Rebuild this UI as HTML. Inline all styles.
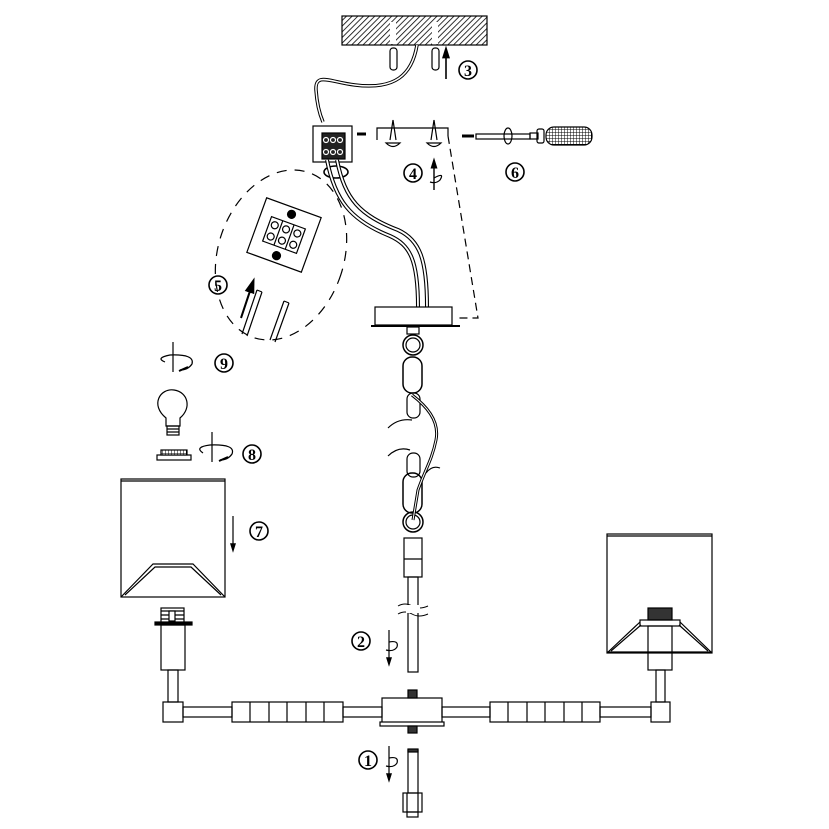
<!DOCTYPE html>
<html><head><meta charset="utf-8"><style>html,body{margin:0;padding:0;background:#fff;}svg{display:block}</style></head>
<body>
<svg width="829" height="829" viewBox="0 0 829 829" xmlns="http://www.w3.org/2000/svg" font-family="Liberation Serif, serif">
<defs>
<pattern id="hatch" width="4" height="4" patternUnits="userSpaceOnUse" patternTransform="rotate(45)"><rect width="4" height="4" fill="#fff"/><line x1="0" y1="0" x2="0" y2="4" stroke="#000" stroke-width="1.6"/></pattern>
<pattern id="grid" width="3" height="3" patternUnits="userSpaceOnUse"><rect width="3" height="3" fill="#fff"/><path d="M0 0H3M0 0V3" stroke="#000" stroke-width="1"/></pattern>
<marker id="ah" markerWidth="8" markerHeight="8" refX="4" refY="4" orient="auto"><path d="M0 1.5 L8 4 L0 6.5Z" fill="#000"/></marker>
</defs>
<g fill="none" stroke="#000" stroke-width="1.2">
<!-- ceiling -->
<rect x="342" y="16" width="145" height="29" fill="url(#hatch)"/>
<rect x="390" y="22" width="6" height="22" fill="#fff" stroke="none"/>
<rect x="432" y="22" width="6" height="22" fill="#fff" stroke="none"/>
<rect x="390" y="48" width="7" height="22" rx="3"/>
<rect x="432" y="48" width="7" height="22" rx="3"/>
<line x1="446" y1="79" x2="446" y2="52" stroke-width="1.6" marker-end="url(#ah)"/>
<!-- cable -->
<path d="M417 45 C412 75 395 90 355 85 C330 82 315 72 316 90 C317 105 320 115 323 122" stroke-width="3.5"/>
<path d="M417 45 C412 75 395 90 355 85 C330 82 315 72 316 90 C317 105 320 115 323 122" stroke="#fff" stroke-width="1.5"/>
<!-- junction box -->
<rect x="313" y="126" width="39" height="36"/>
<rect x="322" y="133" width="23" height="26" fill="#222"/>
<circle cx="326" cy="140" r="2.5" stroke="#fff"/><circle cx="333" cy="140" r="2.5" stroke="#fff"/><circle cx="340" cy="140" r="2.5" stroke="#fff"/>
<circle cx="326" cy="152" r="2.5" stroke="#fff"/><circle cx="333" cy="152" r="2.5" stroke="#fff"/><circle cx="340" cy="152" r="2.5" stroke="#fff"/>
<ellipse cx="336" cy="172" rx="12" ry="6" stroke-width="1.6"/>
<path d="M357 134 H366" stroke-width="3"/>
<!-- wires -->
<path d="M327 160 C335 200 350 220 390 236 C410 245 418 260 418 307" stroke-width="4"/>
<path d="M327 160 C335 200 350 220 390 236 C410 245 418 260 418 307" stroke="#fff" stroke-width="1.8"/>
<path d="M337 160 C345 200 360 215 398 230 C420 240 427 260 427 307" stroke-width="4"/>
<path d="M337 160 C345 200 360 215 398 230 C420 240 427 260 427 307" stroke="#fff" stroke-width="1.8"/>
<!-- bracket -->
<path d="M377 140 V128 H448 V136"/>
<path d="M393 120 L390 140 M393 120 L396 140 M386 143 Q393 150 400 143Z"/>
<path d="M434 120 L431 140 M434 120 L437 140 M427 143 Q434 150 441 143Z"/>
<line x1="434" y1="190" x2="434" y2="163" stroke-width="1.4" marker-end="url(#ah)"/>
<path d="M434 178 Q445 172 440 180 Q436 184 430 182"/>
<!-- dashed -->
<path d="M448 136 L478 318 L455 318" stroke-dasharray="8 5"/>
<!-- screwdriver -->
<path d="M462 136 H474" stroke-width="3"/>
<rect x="476" y="134" width="54" height="5"/>
<ellipse cx="508" cy="136" rx="4" ry="8"/>
<rect x="530" y="133" width="8" height="6"/>
<rect x="537" y="129" width="7" height="14" rx="2"/>
<rect x="546" y="127" width="46" height="18" rx="8" fill="url(#grid)"/>
<!-- canopy -->
<rect x="375" y="307" width="77" height="18"/>
<line x1="371" y1="326" x2="460" y2="326" stroke-width="2"/>
<rect x="407" y="327" width="12" height="7"/>
<!-- chain -->
<circle cx="413" cy="345" r="10" stroke-width="1.5"/><circle cx="413" cy="345" r="7"/>
<rect x="403" y="357" width="19" height="36" rx="9" stroke-width="1.5"/>
<rect x="407" y="393" width="13" height="25" rx="6"/>
<rect x="407" y="453" width="13" height="24" rx="6"/>
<rect x="403" y="473" width="19" height="40" rx="9" stroke-width="1.5"/>
<circle cx="413" cy="522" r="10" stroke-width="1.5"/><circle cx="413" cy="522" r="7"/>
<path d="M412 395 C425 405 440 420 436 440 C432 460 425 470 418 490 L413 520" stroke-width="3"/>
<path d="M412 395 C425 405 440 420 436 440 C432 460 425 470 418 490 L413 520" stroke="#fff" stroke-width="1"/>
<path d="M388 428 Q398 418 412 420 M388 456 Q398 446 410 450 M426 473 Q432 465 440 468"/>
<!-- center rod -->
<rect x="404" y="538" width="18" height="39"/><line x1="404" y1="559" x2="422" y2="559"/>
<rect x="408" y="577" width="10" height="95"/>
<path d="M398 606 Q405 602 412 606 T428 606 M398 614 Q405 610 412 614 T428 614" stroke-width="1"/>
<rect x="406" y="605" width="14" height="8" fill="#fff" stroke="none"/>
<line x1="389" y1="630" x2="389" y2="662" marker-end="url(#ah)"/>
<path d="M389 642 Q399 640 397 647 Q394 652 386 650"/>
<!-- arm -->
<rect x="183" y="707" width="49" height="10"/>
<rect x="232" y="702" width="111" height="20"/>
<path d="M250 702V722M269 702V722M287 702V722M306 702V722M324 702V722"/>
<rect x="343" y="707" width="39" height="10"/>
<rect x="442" y="707" width="48" height="10"/>
<rect x="490" y="702" width="110" height="20"/>
<path d="M508 702V722M527 702V722M545 702V722M564 702V722M582 702V722"/>
<rect x="600" y="707" width="51" height="10"/>
<rect x="382" y="698" width="60" height="25"/>
<rect x="380" y="722" width="64" height="4" fill="#fff"/>
<rect x="408" y="690" width="9" height="8" fill="#333"/>
<rect x="408" y="726" width="9" height="7" fill="#333"/>
<rect x="163" y="702" width="20" height="20"/>
<rect x="651" y="702" width="19" height="20"/>
<rect x="168" y="670" width="10" height="32"/>
<rect x="656" y="670" width="9" height="32"/>
<!-- left socket -->
<rect x="161" y="608" width="23" height="15" fill="#fff"/>
<path d="M161 611H184M161 615H184M161 619H184"/>
<rect x="169" y="611" width="6" height="10" fill="#fff"/>
<rect x="155" y="622" width="37" height="3" fill="#000"/>
<rect x="161" y="625" width="24" height="45"/>
<!-- left shade -->
<rect x="121" y="479" width="104" height="118"/>
<line x1="121" y1="481" x2="225" y2="481"/>
<path d="M121 597 L153 564 H193 L225 597 M125 595 L155 567 H191 L221 595"/>
<line x1="233" y1="516" x2="233" y2="548" marker-end="url(#ah)"/>
<!-- right shade -->
<rect x="607" y="534" width="105" height="119"/>
<line x1="607" y1="536" x2="712" y2="536"/>
<rect x="648" y="608" width="24" height="12" fill="#333"/>
<rect x="640" y="620" width="40" height="6"/>
<rect x="648" y="626" width="24" height="44"/>
<path d="M607 653 L640 622 M712 653 L680 622 M611 651 L641 625 M708 651 L679 625"/>
<line x1="607" y1="652" x2="712" y2="652"/>
<!-- bottom piece -->
<rect x="408" y="750" width="10" height="43"/>
<rect x="408" y="749" width="10" height="3" fill="#333"/>
<rect x="403" y="793" width="19" height="19"/><path d="M407 793V812M418 793V812"/>
<rect x="407" y="812" width="11" height="5"/>
<line x1="389" y1="746" x2="389" y2="778" marker-end="url(#ah)"/>
<path d="M389 758 Q399 756 397 763 Q394 768 386 766"/>
<!-- callout -->
<ellipse cx="281" cy="255" rx="63" ry="87" transform="rotate(18 281 255)" stroke-dasharray="10 8"/>
<g transform="rotate(20 284 235)">
<rect x="255" y="206" width="58" height="58"/>
<rect x="266" y="222" width="36" height="26"/>
<path d="M278 222V248M290 222V248"/>
<circle cx="272" cy="229" r="3.5"/><circle cx="284" cy="229" r="3.5"/><circle cx="296" cy="229" r="3.5"/>
<circle cx="272" cy="241" r="3.5"/><circle cx="284" cy="241" r="3.5"/><circle cx="296" cy="241" r="3.5"/>
<circle cx="284" cy="213" r="4" fill="#000"/><circle cx="284" cy="257" r="4" fill="#000"/>
</g>
<path d="M257 290 L242 334 M262 292 L247 336 M257 290 L262 292"/>
<path d="M284 301 L270 340 M289 303 L275 342 M284 301 L289 303"/>
<line x1="241" y1="318" x2="252" y2="285" stroke-width="2" marker-end="url(#ah)"/>
<!-- 9 -->
<line x1="173" y1="342" x2="173" y2="372"/>
<path d="M165 362 Q155 358 170 355 Q195 354 192 364 Q188 370 180 370" />
<path d="M179 371 L188 367" stroke-width="2"/>
<!-- bulb -->
<path d="M166 418 C150 405 160 388 174 390 C188 392 192 408 180 418 V426 H166Z"/>
<rect x="167" y="426" width="12" height="9"/>
<path d="M167 429H179M167 432H179"/>
<!-- holder -->
<rect x="157" y="455" width="34" height="5"/>
<rect x="161" y="450" width="26" height="5" fill="url(#grid)"/>
<line x1="212" y1="432" x2="212" y2="462"/>
<path d="M203 453 Q194 447 210 445 Q236 444 232 454 Q228 460 220 460"/>
<path d="M219 461 L228 457" stroke-width="2"/>
</g>
<g fill="none" stroke="#000" stroke-width="1.6">
<circle cx="468" cy="70" r="9"/>
<circle cx="413" cy="173" r="9"/>
<circle cx="515" cy="172" r="9"/>
<circle cx="218" cy="285" r="9"/>
<circle cx="224" cy="363" r="9"/>
<circle cx="252" cy="454" r="9"/>
<circle cx="259" cy="531" r="9"/>
<circle cx="361" cy="641" r="9"/>
<circle cx="368" cy="760" r="9"/>
</g>
<g font-size="16" font-weight="bold" fill="#000" text-anchor="middle">
<text x="468" y="76">3</text>
<text x="413" y="179">4</text>
<text x="515" y="178">6</text>
<text x="218" y="291">5</text>
<text x="224" y="369">9</text>
<text x="252" y="460">8</text>
<text x="259" y="537">7</text>
<text x="361" y="647">2</text>
<text x="368" y="766">1</text>
</g>
</svg>
</body></html>
